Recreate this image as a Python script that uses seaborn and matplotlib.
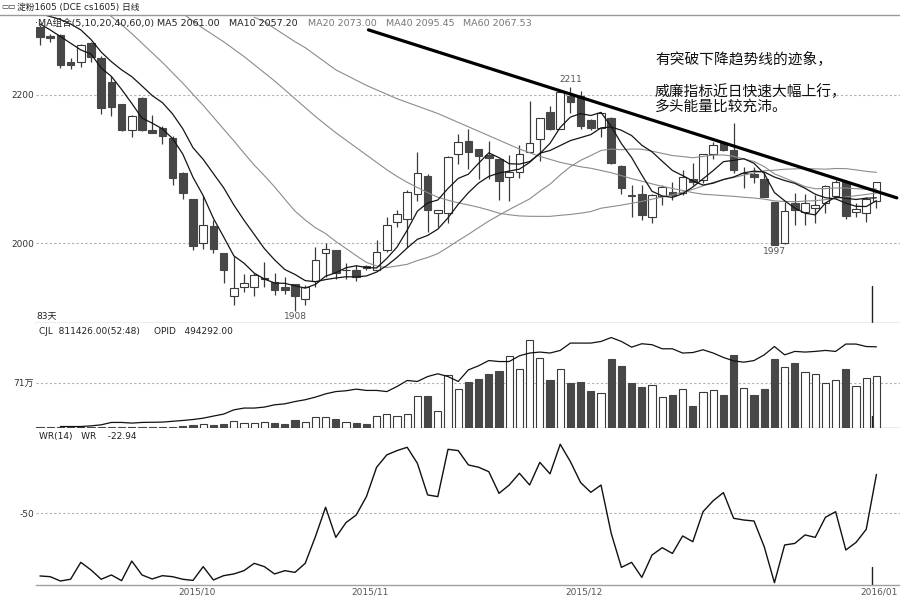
import numpy as np
import matplotlib
matplotlib.use("Agg")
import matplotlib.pyplot as plt
from matplotlib.lines import Line2D
import seaborn as sns

sns.set_theme(style="white")
plt.rcParams['font.family'] = ['DejaVu Sans', 'Noto Sans CJK SC']
plt.rcParams['axes.unicode_minus'] = False

# ---------------- data ----------------
opens = [2292, 2280, 2281, 2245, 2245, 2270, 2250, 2218, 2188, 2153,
         2196, 2153, 2156, 2142, 2094, 2059, 2000, 2023, 1986, 1929,
         1940, 1940, 1952, 1947, 1941, 1944.6, 1925, 1949, 1986, 1990.5,
         1963, 1963, 1969, 1964, 1990.5, 2028, 2033, 2066, 2090, 2040,
         2040, 2120, 2138, 2127, 2119, 2114, 2089, 2096, 2123, 2140,
         2177.5, 2154, 2198, 2198, 2166, 2155, 2168.5, 2104.5, 2064.5, 2066,
         2034.7, 2064, 2069, 2068, 2087, 2085, 2120, 2135, 2125, 2094,
         2093, 2087, 2056, 1999.5, 2053.6, 2042, 2047, 2053.6, 2064, 2083,
         2042, 2040, 2057]
highs = [2295, 2283, 2282, 2250, 2269, 2272, 2253, 2225, 2188, 2173,
         2197, 2173, 2158.6, 2145, 2096, 2060, 2063, 2031, 1987, 1982,
         1958, 1959, 1975, 1959, 1954.5, 1945, 1943, 1995, 1999.5, 1991,
         1972.5, 1970, 1970, 2004, 2035.6, 2044.6, 2071.6, 2122.5, 2093, 2045,
         2117, 2147, 2154, 2127, 2138, 2114, 2119, 2133, 2192, 2169,
         2185, 2204, 2211, 2206, 2167, 2177, 2170, 2105, 2078, 2078,
         2066, 2078, 2083, 2098.6, 2107.7, 2120, 2137, 2135, 2162, 2103,
         2103, 2094, 2056, 2056, 2067, 2065.8, 2065, 2078, 2085, 2085,
         2053.6, 2062.6, 2083]
lows = [2268, 2271, 2237, 2235, 2238, 2244, 2174, 2172, 2152, 2143,
        2152, 2148, 2134, 2079, 2059, 1991, 1992, 1987, 1945.5, 1916,
        1934, 1929, 1941, 1930, 1931, 1908, 1916, 1941, 1954.5, 1952,
        1951, 1948, 1963.6, 1963, 1988, 2022, 1995, 2057, 2015, 2022,
        2026.6, 2107, 2099.5, 2087, 2087, 2058, 2057, 2088, 2123, 2111,
        2153, 2154, 2175, 2154, 2153, 2143.7, 2107, 2066, 2035.6, 2031,
        2027.5, 2051, 2058, 2065, 2078, 2081, 2114, 2124, 2095, 2074,
        2080.6, 2062, 1997, 1999, 2024, 2024, 2026.6, 2040, 2060, 2033,
        2035.6, 2029, 2047]
closes = [2279, 2277.5, 2240, 2241, 2267, 2252, 2182, 2184, 2153, 2172,
          2153, 2148, 2145, 2088, 2067, 1996, 2024, 1992, 1963, 1939,
          1945.5, 1957, 1952, 1936, 1937, 1929, 1941, 1977, 1992, 1960,
          1963.5, 1954, 1966, 1988, 2025, 2039, 2069, 2094, 2044, 2044.6,
          2116.7, 2137, 2122.5, 2118, 2115, 2084, 2096, 2120, 2135, 2168.5,
          2154, 2203.6, 2190, 2158, 2156, 2175, 2107.7, 2075, 2064, 2038,
          2065, 2076, 2065, 2089.6, 2083, 2120, 2132, 2125, 2098.6, 2095,
          2089, 2062.6, 1997, 2043, 2044.6, 2054.5, 2051, 2077.5, 2083, 2036.5,
          2046, 2060, 2082]

ma5 = [2296, 2288, 2279, 2270, 2260.9, 2255.5, 2236.4, 2225.2, 2207.6, 2188.6,
       2168.8, 2162.0, 2154.2, 2141.2, 2120.2, 2088.8, 2064.0, 2033.4, 2008.4, 1982.8,
       1972.7, 1959.3, 1951.3, 1945.9, 1945.5, 1942.2, 1939.0, 1944.0, 1955.2, 1959.8,
       1966.6, 1969.2, 1967.0, 1966.2, 1979.2, 1994.4, 2017.4, 2043.0, 2054.2, 2058.1,
       2073.7, 2087.3, 2093.0, 2107.8, 2121.8, 2115.3, 2107.1, 2106.6, 2110.0, 2120.7,
       2134.7, 2156.2, 2170.2, 2174.8, 2172.3, 2176.5, 2157.3, 2134.3, 2115.5, 2091.9,
       2069.9, 2063.6, 2061.6, 2066.7, 2075.7, 2086.7, 2097.9, 2109.9, 2111.7, 2113.9,
       2107.7, 2093.8, 2068.2, 2057.1, 2047.2, 2040.3, 2038.0, 2054.1, 2062.1, 2060.5,
       2058.8, 2060.6, 2061.0]
ma10 = [2310, 2306, 2302, 2296, 2288, 2275, 2258, 2245, 2234, 2224.8,
        2212.2, 2199.2, 2189.7, 2174.4, 2154.4, 2128.8, 2113.0, 2093.8, 2074.8, 2051.5,
        2030.8, 2011.7, 1992.4, 1977.2, 1964.2, 1957.5, 1949.2, 1947.7, 1950.6, 1952.7,
        1954.4, 1954.1, 1955.5, 1960.7, 1969.5, 1980.5, 1993.3, 2005.0, 2010.2, 2018.7,
        2034.0, 2052.3, 2068.0, 2081.0, 2090.0, 2094.5, 2097.2, 2099.8, 2108.9, 2121.3,
        2125.0, 2131.7, 2138.4, 2142.4, 2146.5, 2155.6, 2156.8, 2152.3, 2145.2, 2132.1,
        2123.2, 2110.5, 2098.0, 2091.1, 2083.8, 2078.3, 2080.8, 2085.8, 2089.2, 2094.8,
        2097.2, 2095.9, 2089.1, 2084.4, 2080.6, 2074.0, 2065.9, 2061.2, 2059.6, 2053.9,
        2049.6, 2049.3, 2057.2]
nan = float('nan')
ma20 = [nan, nan, nan, nan, nan, nan, 2318, 2306, 2295, 2283,
        2270, 2257, 2244, 2230, 2216, 2201, 2186, 2170, 2154, 2138.1,
        2121.5, 2105.4, 2091.0, 2075.8, 2059.3, 2043.1, 2031.1, 2020.7, 2012.7, 2002.1,
        1992.6, 1982.9, 1973.9, 1968.9, 1966.8, 1969.0, 1971.2, 1976.3, 1980.4, 1985.7,
        1994.2, 2003.2, 2011.7, 2020.8, 2029.7, 2037.5, 2045.2, 2052.4, 2059.5, 2070.0,
        2079.5, 2092.0, 2103.2, 2111.7, 2118.2, 2125.0, 2127.0, 2126.0, 2127.0, 2126.7,
        2124.1, 2121.1, 2118.2, 2116.8, 2115.2, 2117.0, 2118.8, 2119.0, 2117.2, 2113.5,
        2110.2, 2103.2, 2093.5, 2087.8, 2082.2, 2076.2, 2073.3, 2073.5, 2074.4, 2074.3,
        2073.4, 2072.6, 2073.0]
ma40 = [nan] * 13 + [
        2318, 2310, 2300, 2290, 2281, 2272, 2262, 2252, 2241, 2230,
        2219, 2207, 2195, 2183, 2171, 2160, 2149, 2139, 2129, 2119,
        2109, 2099, 2090, 2082, 2075, 2068,
        2061.9, 2057.8, 2054.3, 2051.4, 2048.3, 2044.5, 2040.3, 2038.2, 2036.6, 2036.1,
        2036.0, 2036.0, 2037.4, 2038.6, 2040.3, 2042.5, 2047.0, 2049.1, 2051.2, 2053.7,
        2056.2, 2059.2, 2062.1, 2065.0, 2068.8, 2072.5, 2077.2, 2082.0, 2085.7, 2088.4,
        2091.7, 2094.9, 2097.6, 2098.4, 2099.7, 2100.2, 2100.6, 2100.2, 2099.8, 2100.7,
        2100.5, 2098.8, 2096.8, 2095.45]
ma60 = [nan] * 21 + [
        2305, 2299, 2290, 2281, 2272, 2264, 2254, 2244, 2234, 2227,
        2220, 2213, 2207, 2201, 2195, 2190, 2185, 2180, 2175, 2169,
        2163, 2157, 2151, 2145, 2139, 2133, 2127, 2122, 2117, 2113,
        2109, 2106, 2103, 2101, 2098, 2095, 2091, 2087,
        2083.5, 2079.9, 2076.6, 2073.7, 2071.1, 2068.1, 2065.9, 2065.0, 2064.0, 2063.1,
        2061.8, 2060.8, 2059.3, 2056.9, 2056.1, 2055.8, 2056.7, 2057.2, 2058.6, 2060.6,
        2062.2, 2063.9, 2065.6, 2067.53]

volume_wan = [0.3, 0.3, 0.3, 0.3, 0.3, 0.3, 1.5, 0.8, 0.8, 0.8,
              0.3, 0.3, 0.5, 1.5, 2.6, 3.7, 5.3, 3.7, 5.8, 11.0,
              6.8, 7.9, 8.4, 6.8, 5.3, 12.1, 9.5, 16.3, 16.3, 13.1,
              9.5, 7.9, 5.8, 18.9, 21.0, 18.4, 21.0, 50.5, 50.5, 26.3,
              83.0, 60.5, 72.6, 76.3, 84.1, 89.4, 113.0, 92.0, 139.4, 109.4,
              75.2, 92.0, 71.0, 72.6, 58.4, 54.2, 107.8, 97.3, 71.0, 64.7,
              67.3, 48.9, 51.5, 60.5, 34.2, 55.7, 59.4, 51.5, 114.7, 62.0,
              51.5, 61.0, 107.8, 95.2, 103.0, 88.4, 84.7, 70.0, 74.7, 92.0,
              65.7, 78.9, 81.1]
opid_wan = [nan, nan, 0.6, 0.6, 0.6, 1.0, 1.65, 3.1, 3.1, 2.7,
            3.1, 3.2, 3.3, 3.8, 4.3, 4.9, 5.7, 7.0, 8.2, 10.8,
            11.9, 11.9, 12.5, 13.9, 14.5, 15.9, 17.0, 18.6, 20.6, 22.0,
            22.5, 23.5, 22.7, 22.7, 22.0, 25.1, 28.8, 28.2, 31.2, 32.9,
            31.2, 28.2, 35.3, 37.8, 41.0, 40.4, 40.4, 43.9, 45.6, 46.2,
            45.6, 47.2, 51.7, 51.7, 51.7, 52.7, 55.1, 52.7, 49.2, 51.3,
            50.7, 48.2, 48.2, 45.6, 45.9, 47.6, 45.6, 42.9, 40.8, 40.0,
            41.0, 44.5, 49.6, 44.5, 46.6, 46.2, 46.6, 47.2, 46.6, 51.1,
            51.1, 49.6, 49.4]
wr = [-93.7, -94.2, -97.2, -96.0, -84.2, -89.5, -96.0, -93.0, -97.0, -83.3,
      -93.0, -95.8, -93.5, -94.2, -96.0, -96.8, -87.2, -96.5, -93.5, -92.3,
      -90.0, -84.9, -87.2, -92.3, -90.0, -91.2, -84.9, -66.3, -45.8, -66.8,
      -56.5, -51.2, -38.4, -17.9, -9.3, -6.3, -4.0, -15.2, -37.2, -38.4,
      -5.4, -6.3, -16.3, -17.9, -21.0, -36.1, -30.3, -22.1, -30.3, -14.5,
      -22.5, -1.9, -14.0, -28.6, -35.4, -30.3, -64.0, -87.7, -84.2, -94.7,
      -79.1, -74.0, -78.0, -65.8, -69.8, -48.9, -41.2, -35.6, -53.5, -54.7,
      -55.4, -73.3, -98.4, -72.1, -71.0, -65.1, -66.8, -52.8, -48.9, -75.6,
      -70.3, -61.2, -22.94]

month_pos = [15.4, 32.35, 53.3, 82.3]
month_labels = ['2015/10', '2015/11', '2015/12', '2016/01']
trend_x = [32.2, 84.0]
trend_y = [2288, 2061]
extreme_idx = [52, 25, 72]
extreme_val = [2211, 1908, 1997]
extreme_txt = ['2211', '1908', '1997']
extreme_up = [True, False, False]
cursor_pos = 81.6

# ---------------- figure ----------------
W_PX, H_PX = 900, 602
fig = plt.figure(figsize=(9, 6.02), dpi=100)
fig.patch.set_facecolor('white')

def fx(px):
    return px / W_PX

def fy(py):
    return 1 - py / H_PX

L, R = 36, 900
ax_p = fig.add_axes([fx(L), fy(323), fx(R - L), (323 - 15) / H_PX])
ax_v = fig.add_axes([fx(L), fy(427.5), fx(R - L), (427.5 - 323) / H_PX], sharex=ax_p)
ax_w = fig.add_axes([fx(L), fy(585), fx(R - L), (585 - 427.5) / H_PX], sharex=ax_p)

x = np.arange(len(closes))
o = np.array(opens); c = np.array(closes)
h = np.array(highs); lo = np.array(lows)
up = c >= o
DARK = '#474747'
EDGE = '#3a3a3a'
fills = np.where(up, 'white', DARK)
edges = np.where(up, EDGE, DARK)

for ax in (ax_p, ax_v, ax_w):
    ax.set_facecolor('white')
    for s in ('left', 'right', 'top'):
        ax.spines[s].set_visible(False)
    ax.spines['bottom'].set_color('#a0a0a0')
    ax.spines['bottom'].set_linewidth(1.0)
    ax.tick_params(axis='both', length=0, labelsize=6.5, colors='#333333', pad=1.5)
    ax.grid(False)

ax_p.set_xlim(-0.39, 84.31)

# price panel
ax_p.set_ylim(1891.9, 2308.1)
for lvl in (2000, 2200):
    ax_p.axhline(lvl, color='#b0b0b0', lw=0.8, ls=(0, (2, 2)), zorder=1)
ax_p.vlines(x, lo, h, color=EDGE, lw=0.9, zorder=2)
ax_p.bar(x, np.maximum(np.abs(c - o), 0.9), bottom=np.minimum(o, c), width=0.75,
         color=fills, edgecolor=edges, linewidth=0.8, zorder=3)
for arr, col, lw in ((ma60, '#8c8c8c', 0.8), (ma40, '#8c8c8c', 0.8), (ma20, '#8c8c8c', 0.8),
                     (ma10, '#151515', 0.9), (ma5, '#151515', 0.9)):
    sns.lineplot(x=x, y=np.array(arr), ax=ax_p, color=col, lw=lw, zorder=4, legend=False)
sns.lineplot(x=trend_x, y=trend_y, ax=ax_p, color='black', lw=2.3, zorder=5, legend=False)
for i, v, t, isup in zip(extreme_idx, extreme_val, extreme_txt, extreme_up):
    ax_p.annotate(t, xy=(i, v), xytext=(0, 2 if isup else -1), textcoords='offset points',
                  ha='center', va='bottom' if isup else 'top', fontsize=6.5, color='#555555')
ax_p.axvline(cursor_pos, ymin=0, ymax=0.12, color='#222222', lw=1.0)
ax_p.set_yticks([2000, 2200])
ax_p.set_yticklabels(['2000', '2200'])
ax_p.tick_params(axis='x', labelbottom=False)
ax_p.set_xlabel(''); ax_p.set_ylabel('')

# volume panel
ax_v.set_ylim(0, 165.6)
ax_v.axhline(71, color='#b0b0b0', lw=0.8, ls=(0, (2, 2)), zorder=1)
ax_v.bar(x, volume_wan, width=0.7, color=fills, edgecolor=edges, linewidth=0.8, zorder=3)
ax_v.axvline(cursor_pos, ymin=0, ymax=0.11, color='#222222', lw=1.0)
ax_v.set_yticks([71])
ax_v.set_yticklabels(['71万'])
ax_v.tick_params(axis='x', labelbottom=False)
ax_o = ax_v.twinx()
ax_o.set_ylim(0, 64.0)
sns.lineplot(x=x, y=np.array(opid_wan), ax=ax_o, color='#111111', lw=0.9, zorder=4, legend=False)
ax_o.set_yticks([])
ax_o.set_ylabel('')
for s in ax_o.spines.values():
    s.set_visible(False)
ax_v.set_xlabel(''); ax_v.set_ylabel('')

# WR panel
ax_w.set_ylim(-100, 9.8)
ax_w.axhline(-50, color='#b0b0b0', lw=0.8, ls=(0, (2, 2)), zorder=1)
sns.lineplot(x=x, y=np.array(wr), ax=ax_w, color='#111111', lw=1.0, zorder=4, legend=False)
ax_w.axvline(cursor_pos, ymin=0, ymax=0.115, color='#222222', lw=1.0)
ax_w.set_yticks([-50])
ax_w.set_yticklabels(['-50'])
ax_w.set_xticks(month_pos)
ax_w.set_xticklabels(month_labels, color='#555555')
ax_w.set_xlabel(''); ax_w.set_ylabel('')

# top border line
fig.add_artist(Line2D([0, 1], [fy(15), fy(15)], color='#999999', lw=1.0))

# texts
fig.text(fx(1), fy(7), '▭▭', fontsize=5.5, color='#333333', va='center', ha='left')
fig.text(fx(17), fy(7), '淀粉1605 (DCE cs1605) 日线', fontsize=6.3, color='#222222',
         va='center', ha='left')
legend_items = [(35, '·MA组合(5,10,20,40,60,0)', '#222222'),
                (157, 'MA5 2061.00', '#222222'),
                (229, 'MA10 2057.20', '#222222'),
                (308, 'MA20 2073.00', '#777777'),
                (386, 'MA40 2095.45', '#777777'),
                (463, 'MA60 2067.53', '#777777')]
for px, t, col in legend_items:
    fig.text(fx(px), fy(23), t, fontsize=6.8, color=col, va='center', ha='left')
fig.text(fx(36), fy(316), '83天', fontsize=6.5, color='#222222', va='center', ha='left')
fig.text(fx(39), fy(332), 'CJL  811426.00(52:48)', fontsize=6.5, color='#222222', va='center', ha='left')
fig.text(fx(154), fy(332), 'OPID   494292.00', fontsize=6.5, color='#222222', va='center', ha='left')
fig.text(fx(39), fy(436), 'WR(14)   WR    -22.94', fontsize=6.5, color='#222222', va='center', ha='left')

note_font = ['Noto Sans CJK SC', 'DejaVu Sans']
fig.text(fx(655), fy(59), '有突破下降趋势线的迹象，', fontsize=10.6, family=note_font,
         color='#111111', va='center', ha='left')
fig.text(fx(655), fy(92), '威廉指标近日快速大幅上行，', fontsize=10.6, family=note_font,
         color='#111111', va='center', ha='left')
fig.text(fx(655), fy(107), '多头能量比较充沛。', fontsize=10.6, family=note_font,
         color='#111111', va='center', ha='left')

fig.savefig('out.png', dpi=100, facecolor='white')
